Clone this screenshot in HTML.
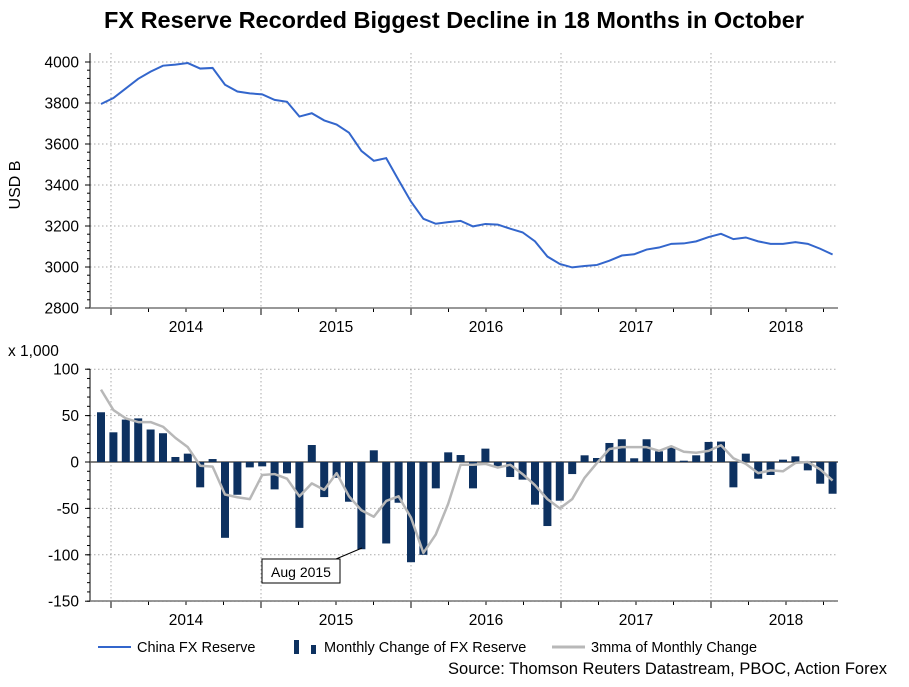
<!DOCTYPE html>
<html><head><meta charset="utf-8"><style>
body{margin:0;background:#fff;width:909px;height:682px;overflow:hidden;font-family:"Liberation Sans",sans-serif}
svg text{font-family:"Liberation Sans",sans-serif}
</style></head><body>
<svg id="c" width="909" height="682" xmlns="http://www.w3.org/2000/svg">
<text x="454" y="28" text-anchor="middle" font-size="23.5" font-weight="bold">FX Reserve Recorded Biggest Decline in 18 Months in October</text>
<text x="20" y="185" text-anchor="middle" font-size="16" transform="rotate(-90 20 185)">USD B</text>
<text x="8" y="356" font-size="15.5">x 1,000</text>
<g id="top"></g><g id="bot"></g>
<g>
<line x1="362" y1="548" x2="336" y2="559" stroke="#000" stroke-width="1"/>
<rect x="262" y="559" width="78" height="24" fill="#fff" stroke="#000"/>
<text x="301" y="577" text-anchor="middle" font-size="14">Aug 2015</text>
</g>
<g>
<line x1="98" y1="647" x2="131" y2="647" stroke="#3366cc" stroke-width="2"/>
<text x="137" y="652" font-size="14.5">China FX Reserve</text>
<rect x="294" y="640" width="5" height="14" fill="#0d3160"/>
<rect x="311" y="645" width="5" height="9" fill="#0d3160"/>
<text x="324" y="652" font-size="14.5">Monthly Change of FX Reserve</text>
<line x1="552" y1="647" x2="585" y2="647" stroke="#b8b8b8" stroke-width="3"/>
<text x="591" y="652" font-size="14.5">3mma of Monthly Change</text>
</g>
<text x="887" y="674" text-anchor="end" font-size="16.5">Source: Thomson Reuters Datastream, PBOC, Action Forex</text>
</svg>
<script>
const years=["2014","2015","2016","2017","2018"];
const reserve=[3795,3824,3871,3918,3953,3982,3987,3995,3968,3971,3889,3856,3847,3842,3815,3806,3734,3750,3715,3695,3655,3566,3518,3531,3424,3319,3235,3211,3219,3225,3198,3210,3207,3187,3169,3125,3051,3015,2998,3005,3010,3031,3056,3062,3085,3095,3113,3115,3125,3146,3162,3136,3144,3125,3113,3113,3121,3113,3089,3061];
const change=[53.6,32,45.7,47,35,31,5.4,9,-27.3,3.2,-81.7,-35.3,-5.8,-4.7,-29.5,-12.2,-71,18.3,-37.8,-17,-42.8,-94,12.6,-87.8,-43.9,-108,-100,-28.4,10.4,7.5,-28.4,14.4,-4.7,-16.2,-19,-46,-69,-41.7,-13,7.2,4.3,20.5,24.5,4,24.5,11.5,15.5,1.4,7.2,21.6,22,-27.3,9,-18,-14,2.5,6.1,-9,-23.4,-34.2];
const mma=[78,56,47,43,43,38,26,16,-4,-5,-35,-38,-40,-14,-13,-18,-37,-23,-30,-12,-37,-52,-59,-42,-37,-60,-98,-78,-45,-3,-3,-2,-6,-3,-13,-25,-40,-50,-40,-17,-1,14,16,16,16,12,17,11,10,12,18,4,-2,-12,-9,-10,-1,0,-8,-20];
const topTicks=[2800,3000,3200,3400,3600,3800,4000];
const botTicks=[-150,-100,-50,0,50,100];
const NS="http://www.w3.org/2000/svg";
const L=90,R=838;
const xm=i=>101+i*12.4;
const yearX=k=>111+k*150;
const yT=v=>308-(v-2800)*(246/1200);
const yB=v=>462-v*(46.4/50);
function el(p,t,a){const e=document.createElementNS(NS,t);for(const k in a)e.setAttribute(k,a[k]);p.appendChild(e);return e;}
function axes(g,top,bottom,ticks,yf,minorStep,name){
  ticks.forEach(v=>{const y=yf(v);
    const gl=el(g,"line",{x1:L,x2:R,y1:y,y2:y,stroke:"#aaa","stroke-dasharray":"1.5,2.5"});
    
    
    el(g,"line",{x1:L-5,x2:L,y1:y,y2:y,stroke:"#000"});
    const t=el(g,"text",{x:L-11,y:y+5.5,"text-anchor":"end","font-size":"15.5"});t.textContent=v;
    
    
  });
  for(let v=ticks[0];v<=ticks[ticks.length-1];v+=minorStep){el(g,"line",{x1:L-3,x2:L,y1:yf(v),y2:yf(v),stroke:"#000"});}
  for(let k=0;k<5;k++){const x=yearX(k);
    el(g,"line",{x1:x,x2:x,y1:top,y2:bottom,stroke:"#aaa","stroke-dasharray":"1.5,2.5"});
    el(g,"line",{x1:x,x2:x,y1:bottom,y2:bottom+7,stroke:"#000"});
    const t=el(g,"text",{x:x+75,y:bottom+24,"text-anchor":"middle","font-size":"15.5"});t.textContent=years[k];
    
    
  }
  for(let m=-1;m<20;m++){const x=111+m*37.5;if(x>L&&x<R)el(g,"line",{x1:x,x2:x,y1:bottom,y2:bottom+4,stroke:"#000"});}
  el(g,"line",{x1:L,x2:L,y1:top,y2:bottom,stroke:"#000"});
  el(g,"line",{x1:L,x2:R,y1:bottom,y2:bottom,stroke:"#777","stroke-width":"1.5"});
}
const gt=document.getElementById("top");


axes(gt,53,308,topTicks,yT,40,"top");
const pl=el(gt,"polyline",{points:reserve.map((v,i)=>xm(i)+","+yT(v)).join(" "),fill:"none",stroke:"#3366cc","stroke-width":"2"});


const gb=document.getElementById("bot");


axes(gb,369,601,botTicks,yB,10,"bottom");
el(gb,"line",{x1:L,x2:R,y1:yB(0),y2:yB(0),stroke:"#555","stroke-width":"1.5"});
change.forEach((v,i)=>{const y0=yB(0),y1=yB(v);
  const r=el(gb,"rect",{x:xm(i)-4,y:Math.min(y0,y1),width:8,height:Math.abs(y1-y0),fill:"#0d3160"});
  
  
});
const ml=el(gb,"polyline",{points:mma.map((v,i)=>xm(i)+","+yB(v)).join(" "),fill:"none",stroke:"#b8b8b8","stroke-width":"2.5","stroke-linejoin":"round"});


</script>
</body></html>
